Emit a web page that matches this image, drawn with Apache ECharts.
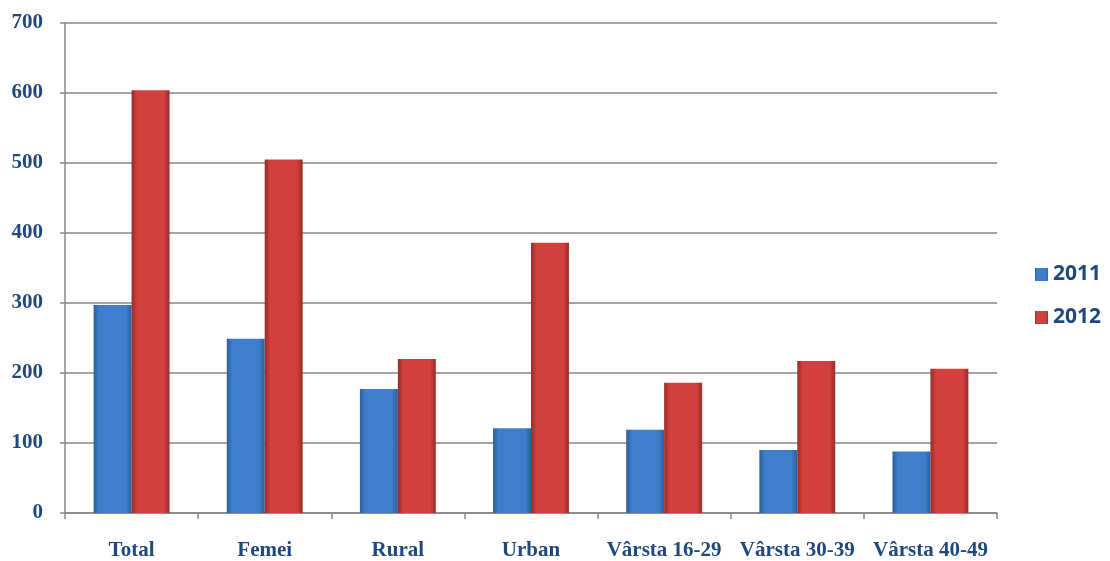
<!DOCTYPE html>
<html><head><meta charset="utf-8">
<script src="https://cdn.jsdelivr.net/npm/echarts@6/dist/echarts.min.js"></script>
<style>html,body{margin:0;padding:0;background:#fff}#c{width:1110px;height:561px}</style>
</head><body><div id="c"></div>
<script>
const categories = ['Total','Femei','Rural','Urban','Vârsta 16-29','Vârsta 30-39','Vârsta 40-49'];
const values2011 = [297, 249, 177, 121, 119, 90, 88];
const values2012 = [604, 505, 220, 386, 186, 217, 206];
const yTicks = {min: 0, max: 700, interval: 100};

function grad(edge, mid) {
  return new echarts.graphic.LinearGradient(0, 0, 1, 0, [
    {offset: 0, color: edge}, {offset: 0.15, color: mid},
    {offset: 0.85, color: mid}, {offset: 1, color: edge}
  ]);
}
const blue = grad('#2c5f9e', '#3f7ecb');
const red = grad('#9a2a27', '#d2413e');
const txt = '#1f497d';

const chart = echarts.init(document.getElementById('c'));
chart.setOption({
  animation: false,
  grid: {left: 65, right: 113, top: 23, bottom: 47, containLabel: false},
  legend: {
    orient: 'vertical', right: 4, top: 259, itemGap: 22,
    itemWidth: 13, itemHeight: 13, icon: 'rect',
    textStyle: {fontFamily: 'Open Sans', fontWeight: 'bold', fontSize: 21, color: txt}
  },
  xAxis: {
    type: 'category', data: categories,
    axisLine: {lineStyle: {color: '#868686', width: 1.5}},
    axisTick: {show: true, interval: 0, length: 6, lineStyle: {color: '#868686', width: 1.5}},
    axisLabel: {interval: 0, margin: 27, fontFamily: 'Liberation Serif', fontWeight: 'bold', fontSize: 21, color: txt}
  },
  yAxis: {
    type: 'value', min: yTicks.min, max: yTicks.max, interval: yTicks.interval,
    axisLine: {show: true, lineStyle: {color: '#868686', width: 1.5}},
    axisTick: {show: true, length: 5, lineStyle: {color: '#868686', width: 1.5}},
    splitLine: {lineStyle: {color: '#868686', width: 1.5}},
    axisLabel: {margin: 22, fontFamily: 'Liberation Serif', fontWeight: 'bold', fontSize: 21, color: txt}
  },
  series: [
    {name: '2011', type: 'bar', data: values2011, barGap: '0%', barCategoryGap: '43%',
     itemStyle: {color: blue}},
    {name: '2012', type: 'bar', data: values2012, barGap: '0%', barCategoryGap: '43%',
     itemStyle: {color: red}}
  ]
});
</script></body></html>
